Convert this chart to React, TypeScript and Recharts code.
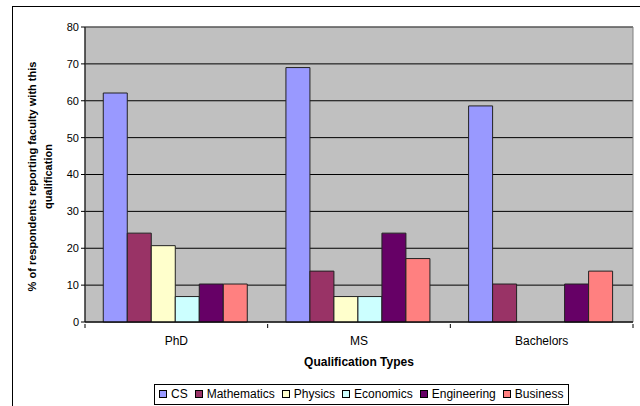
import { BarChart, Bar, XAxis, YAxis, CartesianGrid, Legend, ReferenceArea } from 'recharts';

const categories = ['PhD', 'MS', 'Bachelors'];
const csValues = [62.1, 69.0, 58.6];
const mathValues = [24.1, 13.8, 10.3];
const physicsValues = [20.7, 6.9, 0];
const economicsValues = [6.9, 6.9, 0];
const engineeringValues = [10.3, 24.1, 10.3];
const businessValues = [10.3, 17.2, 13.8];
const yTicks = [0, 10, 20, 30, 40, 50, 60, 70, 80];

const series = [
  { key: 'CS', values: csValues, color: '#9999FF' },
  { key: 'Mathematics', values: mathValues, color: '#993366' },
  { key: 'Physics', values: physicsValues, color: '#FFFFCC' },
  { key: 'Economics', values: economicsValues, color: '#CCFFFF' },
  { key: 'Engineering', values: engineeringValues, color: '#660066' },
  { key: 'Business', values: businessValues, color: '#FF8080' },
];

const data = categories.map((name, i) => {
  const row: Record<string, string | number> = { name };
  series.forEach((s) => { row[s.key] = s.values[i]; });
  return row;
});

const FONT = "Arial, 'Liberation Sans', sans-serif";

const XTick = (props: any) => {
  const { x, y, payload, index } = props;
  const half = payload && payload.offset ? payload.offset : 91.3;
  return (
    <g>
      <line x1={x - half} y1={y - 6} x2={x - half} y2={y - 2} stroke="#000" />
      {index === categories.length - 1 && (
        <line x1={x + half} y1={y - 6} x2={x + half} y2={y - 2} stroke="#000" />
      )}
      <text x={x} y={y + 15} textAnchor="middle" fontSize={12} fontFamily={FONT} fill="#000">
        {payload.value}
      </text>
    </g>
  );
};

const YLabel = (props: any) => {
  const { viewBox } = props;
  const cy = viewBox.y + viewBox.height / 2 + 2;
  return (
    <text transform={`rotate(-90, 40, ${cy})`} x={40} y={cy} textAnchor="middle" fontSize={11} fontWeight="bold" fontFamily={FONT} fill="#000">
      <tspan x={40} dy={-4}>% of respondents reporting faculty with this</tspan>
      <tspan x={40} dy={16}>qualification</tspan>
    </text>
  );
};

const XLabel = (props: any) => {
  const { viewBox } = props;
  return (
    <text x={viewBox.x + viewBox.width / 2} y={viewBox.y + 44} textAnchor="middle" fontSize={12} fontWeight="bold" fontFamily={FONT} fill="#000">
      Qualification Types
    </text>
  );
};

const LegendBox = () => (
  <div style={{ display: 'inline-flex', alignItems: 'center', border: '1px solid #000', background: '#fff', padding: '2px 4px 3px 4px', fontFamily: FONT, fontSize: 12, lineHeight: '14px', whiteSpace: 'nowrap' }}>
    {series.map((s, i) => (
      <span key={s.key} style={{ display: 'inline-flex', alignItems: 'center', marginRight: i === series.length - 1 ? 0 : 7 }}>
        <span style={{ display: 'inline-block', width: 6, height: 6, background: s.color, border: '1px solid #000', marginRight: 4 }} />
        {s.key}
      </span>
    ))}
  </div>
);

export default function App() {
  return (
    <div style={{ position: 'fixed', left: 0, top: 0, width: 640, height: 406, overflow: 'hidden', background: '#fff' }}>
      <div style={{ position: 'absolute', left: 12, top: 6, width: 660, height: 440, border: '1px solid #000', boxSizing: 'border-box' }} />
      <div style={{ position: 'absolute', left: 0, top: 0 }}>
        <BarChart width={640} height={406} data={data} margin={{ top: 27, right: 7, left: 0, bottom: 0 }} barCategoryGap="10%" barGap={0}>
          <CartesianGrid vertical={false} fill="#C0C0C0" stroke="#000" />
          <ReferenceArea y1={0} y2={80} fill="none" stroke="#808080" />
          <XAxis dataKey="name" height={84} tickLine={false} axisLine={{ stroke: '#000' }} tick={<XTick />} interval={0} label={<XLabel />} />
          <YAxis width={85} domain={[0, 80]} ticks={yTicks} interval={0} tickSize={4} tickMargin={2} axisLine={{ stroke: '#000' }} tickLine={{ stroke: '#000' }} tick={{ fontSize: 11, fontFamily: FONT, fill: '#000' }} label={<YLabel />} />
          <Legend layout="horizontal" verticalAlign="middle" align="center" wrapperStyle={{ top: 384, left: 154, width: 'auto' }} content={<LegendBox />} />
          {series.map((s) => (
            <Bar key={s.key} dataKey={s.key} fill={s.color} stroke="#222" strokeWidth={1} isAnimationActive={false} />
          ))}
        </BarChart>
      </div>
    </div>
  );
}
